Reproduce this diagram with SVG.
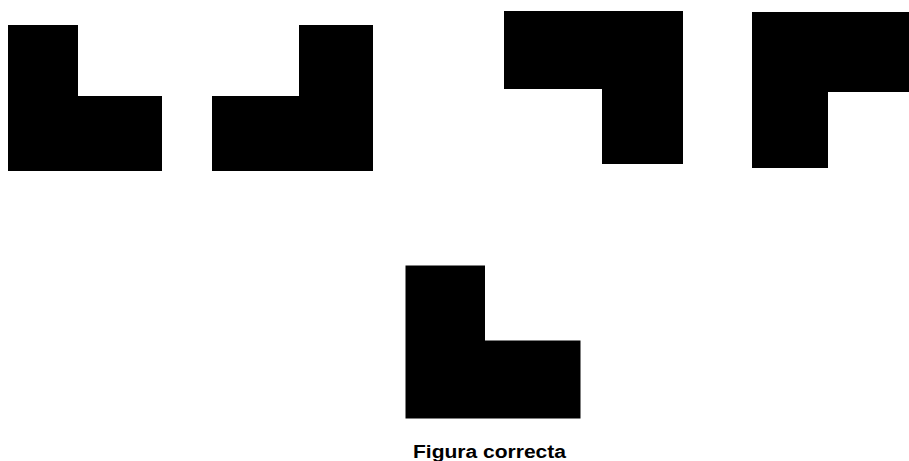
<svg xmlns="http://www.w3.org/2000/svg" width="909" height="461" viewBox="0 0 909 461">
<style>
.shape{fill:#000;stroke:none}
.label{font-family:"Liberation Sans",Arial,sans-serif;font-weight:bold;font-size:18px;fill:#000}
</style>
<rect width="909" height="461" fill="#fff"/>
<g id="shape1"><polygon class="shape" points="8,25 78,25 78,96 162,96 162,171 8,171"/></g>
<g id="shape2"><polygon class="shape" points="212,96 299,96 299,25 373,25 373,171 212,171"/></g>
<g id="shape3"><polygon class="shape" points="504,11 683,11 683,164 602,164 602,89 504,89"/></g>
<g id="shape4"><polygon class="shape" points="752,12 909,12 909,92 828,92 828,168 752,168"/></g>
<g id="shape5"><polygon class="shape" points="405.5,265.5 485,265.5 485,340.5 580.5,340.5 580.5,418.5 405.5,418.5"/></g>
<g id="connectors"></g>
<text class="label" x="413" y="458" textLength="153" lengthAdjust="spacingAndGlyphs">Figura correcta</text>
</svg>
